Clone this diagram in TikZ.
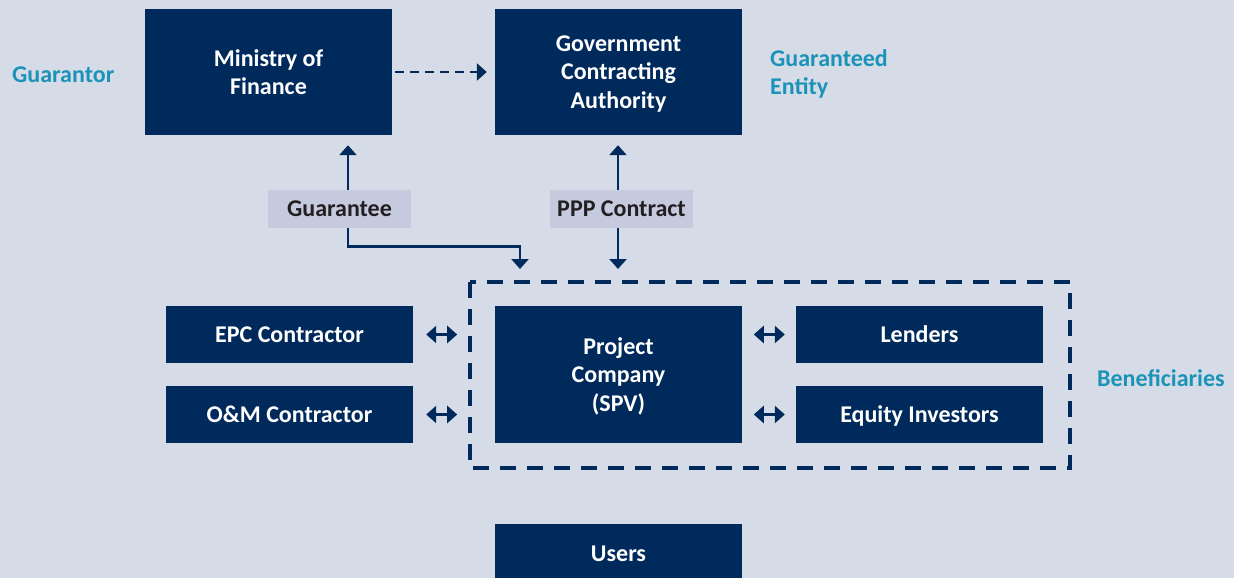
\documentclass[tikz,border=0pt]{standalone}
\usepackage{fontspec}
\setmainfont{Carlito}
\usetikzlibrary{arrows.meta}
\definecolor{navy}{HTML}{002A5C}
\definecolor{teal}{HTML}{1B93B8}
\definecolor{bgc}{HTML}{D5DCE7}
\definecolor{tagc}{HTML}{C5CADF}
\definecolor{ink}{HTML}{231F20}
\tikzset{
  box/.style={fill=navy,text=white,align=center,inner sep=0pt,text depth=0pt,minimum width=247pt},
  tag/.style={fill=tagc,text=ink,inner sep=0pt,minimum width=143pt,minimum height=38pt},
  role/.style={text=teal,anchor=west,align=left,inner sep=0pt},
  link/.style={navy,line width=2.5pt},
  >={Triangle[length=10pt,width=17pt]}
}
\begin{document}
\begin{tikzpicture}[x=1pt,y=-1pt,font=\fontsize{24}{28.5}\selectfont\bfseries]
                \fill[bgc] (0,0) rectangle (1234,578);
                \clip (0,0) rectangle (1234,578);
                \node[box,minimum height=126pt] (mof) at (268.5,72) {Ministry of\\Finance};
                \node[box,minimum height=126pt] (gca) at (618.5,72) {Government\\Contracting\\Authority};
                \node[role] (guarantor) at (12,75) {Guarantor};
                \node[role] (entity) at (770,74) {Guaranteed\\Entity};
                \node[tag] (guar) at (339.5,209) {Guarantee};
                \node[tag] (ppp) at (621.5,209) {PPP Contract};
                \node[box,minimum height=57pt] (epc) at (289.5,334.5) {EPC Contractor};
                \node[box,minimum height=57pt] (om) at (289.5,414.5) {O\&M Contractor};
                \node[box,minimum height=137pt] (spv) at (618.5,374.5) {Project\\Company\\(SPV)};
                \node[box,minimum height=57pt] (lend) at (919.5,334.5) {Lenders};
                \node[box,minimum height=57pt] (equity) at (919.5,414.5) {Equity Investors};
                \node[role] (benef) at (1097,378) {Beneficiaries};
                \node[box,minimum height=60pt] (users) at (618.5,554) {Users};
                \draw[navy,line width=4pt,dash pattern=on 16pt off 11pt] (470,282) rectangle (1070,468);
                \coordinate (gtip) at (520,269);
                \coordinate (ptip) at (618,269);
                \draw[link,dash pattern=on 9pt off 6pt,->] ([xshift=3pt]mof.east) -- ([xshift=-8pt]gca.west);
                \draw[link,->] ([xshift=8.5pt]guar.north) -- ([xshift=79.5pt,yshift=-10pt]mof.south);
                \draw[link,->] ([xshift=8.5pt]guar.south) -- ++(0,18.5) -| (gtip);
                \draw[link,->] ([xshift=-3.5pt]ppp.north) -- ([xshift=-0.5pt,yshift=-10pt]gca.south);
                \draw[link,->] ([xshift=-3.5pt]ppp.south) -- (ptip);
                \draw[link,<->] ([xshift=13pt]epc.east) -- ([xshift=44pt]epc.east);
                \draw[link,<->] ([xshift=13pt]om.east) -- ([xshift=44pt]om.east);
                \draw[link,<->] ([xshift=-42pt]lend.west) -- ([xshift=-11pt]lend.west);
                \draw[link,<->] ([xshift=-42pt]equity.west) -- ([xshift=-11pt]equity.west);
            \end{tikzpicture}
\end{document}
